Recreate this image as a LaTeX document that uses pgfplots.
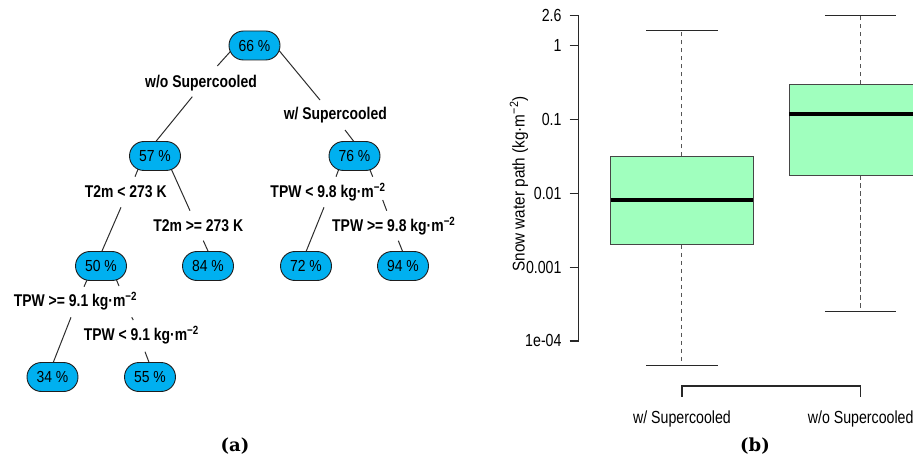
\documentclass[border=0pt]{standalone}
\usepackage{fontspec}
\usepackage{pgfplots}
\pgfplotsset{compat=1.18}
\usetikzlibrary{shapes.misc}
\newfontfamily\lblfont[FakeStretch=0.82]{Liberation Sans}
\newfontfamily\nodefont[FakeStretch=0.87]{Liberation Sans}
\newfontfamily\bxfont[FakeStretch=0.81]{Liberation Sans}
\newfontfamily\ylfont[FakeStretch=0.9]{Liberation Sans}
\newfontfamily\panelfont{DejaVu Serif}
\definecolor{nodeblue}{RGB}{0,176,240}
\definecolor{nodeborder}{RGB}{30,30,30}
\definecolor{edgecol}{RGB}{45,45,45}
\definecolor{axisgray}{RGB}{40,40,40}
\definecolor{whisk}{RGB}{85,85,85}
\definecolor{boxborder}{RGB}{70,70,70}
\definecolor{boxgreen}{RGB}{160,255,190}
\begin{document}
\begin{tikzpicture}
\useasboundingbox (0pt,0pt) rectangle (913pt,457pt);
% ---------------- full-picture axis: tree (a) and panel labels
\begin{axis}[at={(0pt,0pt)}, anchor=south west, width=913pt, height=457pt,
  scale only axis, xmin=0, xmax=913, ymin=0, ymax=457, y dir=reverse,
  hide axis, clip=false]
% edges (visible parts)
\addplot[edgecol, line width=1pt, unbounded coords=jump, mark=none] table[row sep=\\]{
x y\\
235.8 45.5\\ 217.3 66\\ nan nan\\
192.3 96.7\\ 155.7 141.7\\ nan nan\\
274.9 45.5\\ 320 100\\ nan nan\\
345 130\\ 354 141.7\\ nan nan\\
143.4 156\\ 135 176.7\\ nan nan\\
121 207.3\\ 101.7 251.7\\ nan nan\\
165.4 156\\ 190 210.7\\ nan nan\\
203.3 240.7\\ 208.3 251.7\\ nan nan\\
343.8 156\\ 336 176.7\\ nan nan\\
324 207.3\\ 306 251.7\\ nan nan\\
364.4 156\\ 372.7 176.7\\ nan nan\\
382.7 200\\ 386.7 210.7\\ nan nan\\
398.3 240.7\\ 402.7 251.7\\ nan nan\\
93.4 266\\ 84 286.7\\ nan nan\\
71 317.3\\ 53.3 362.3\\ nan nan\\
110.7 266\\ 119 286\\ nan nan\\
131.7 317.3\\ 133.3 320\\ nan nan\\
145 351.7\\ 149 362.3\\
};
% tree nodes
\addplot[draw=none, mark=none, point meta=explicit symbolic, nodes near coords,
  every node near coord/.append style={anchor=center, rounded rectangle, draw=nodeborder,
    line width=0.9pt, fill=nodeblue, minimum width=51pt, minimum height=29pt,
    inner sep=0pt, text=black, font=\nodefont\fontsize{16}{18}\selectfont}]
coordinates {
(254.5,45.5) [66 \%]
(155,156) [57 \%]
(354.5,156) [76 \%]
(101,266) [50 \%]
(208,266) [84 \%]
(306,266) [72 \%]
(403,266) [94 \%]
(52.5,377) [34 \%]
(150,377) [55 \%]
};
% split labels
\addplot[draw=none, mark=none, point meta=explicit symbolic, nodes near coords,
  every node near coord/.append style={anchor=base, inner sep=0pt, text=black,
    font=\lblfont\bfseries\fontsize{17}{20}\selectfont}]
coordinates {
(201,87.3) [w/o Supercooled]
(335.3,120) [w/ Supercooled]
(125.8,197.3) [T2m < 273 K]
(328,197.3) [TPW < 9.8 kg·m\textsuperscript{−2}]
(198.2,231.7) [T2m >= 273 K]
(393.8,231.7) [TPW >= 9.8 kg·m\textsuperscript{−2}]
(75.5,306.7) [TPW >= 9.1 kg·m\textsuperscript{−2}]
(141.3,340.7) [TPW < 9.1 kg·m\textsuperscript{−2}]
};
% panel labels
\addplot[draw=none, mark=none, point meta=explicit symbolic, nodes near coords,
  every node near coord/.append style={anchor=base, inner sep=0pt, text=black,
    font=\panelfont\bfseries\fontsize{18}{21}\selectfont}]
coordinates {(235,451.7) [(a)] (755,451.7) [(b)]};
% y label of (b)
\addplot[draw=none, mark=none, nodes near coords={Snow water path (kg·m\textsuperscript{−2})},
  every node near coord/.append style={anchor=base, rotate=90, inner sep=0pt, text=black,
    font=\ylfont\fontsize{17}{20}\selectfont}]
coordinates {(524.5,184)};
\end{axis}
% ---------------- boxplot (b)
\begin{axis}[at={(578.7pt,57pt)}, anchor=south west, width=334.3pt, height=398.5pt,
  scale only axis, ymode=log, xmin=0.422, xmax=2.2927, ymin=1.585e-5, ymax=3.981,
  clip=false, axis line style={draw=none}, tick align=outside, major tick length=9pt,
  xtick={1,2}, xticklabels={w/ Supercooled,w/o Supercooled}, xtick style={draw=none},
  ytick={1e-4,0.001,0.01,0.1,1,2.6}, yticklabels={1e-04,0.001,0.01,0.1,1,2.6},
  minor ytick={}, ytick style={draw=axisgray, line width=1.1pt},
  xtick pos=bottom, ytick pos=left,
  x tick label style={font=\bxfont\fontsize{17.5}{20}\selectfont, anchor=north, inner sep=0pt, yshift=-1.5pt},
  y tick label style={font=\bxfont\fontsize{17.5}{20}\selectfont, anchor=east, inner sep=0pt, xshift=-8pt}]
% y axis line and x bracket
\addplot[axisgray, line width=1.1pt, mark=none] coordinates {(0.422,1e-4) (0.422,2.6)};
\addplot[axisgray, line width=1.1pt, mark=none] coordinates {(1,1.75e-5) (1,2.45e-5) (2,2.45e-5) (2,1.75e-5)};
% whiskers
\addplot[whisk, line width=1pt, dash pattern=on 4.5pt off 3.5pt, mark=none] coordinates {(1,0.0317) (1,1.6)};
\addplot[whisk, line width=1pt, dash pattern=on 4.5pt off 3.5pt, mark=none] coordinates {(1,0.0020) (1,4.6e-5)};
\addplot[whisk, line width=1pt, dash pattern=on 4.5pt off 3.5pt, mark=none] coordinates {(2,0.303) (2,2.6)};
\addplot[whisk, line width=1pt, dash pattern=on 4.5pt off 3.5pt, mark=none] coordinates {(2,0.0177) (2,2.49e-4)};
\addplot[axisgray, line width=1.1pt, mark=none] coordinates {(0.8,1.6) (1.2,1.6)};
\addplot[axisgray, line width=1.1pt, mark=none] coordinates {(0.8,4.6e-5) (1.2,4.6e-5)};
\addplot[axisgray, line width=1.1pt, mark=none] coordinates {(1.8,2.6) (2.2,2.6)};
\addplot[axisgray, line width=1.1pt, mark=none] coordinates {(1.8,2.49e-4) (2.2,2.49e-4)};
% boxes
\addplot[fill=boxgreen, draw=boxborder, line width=1pt, mark=none] coordinates {(0.6,0.0020) (1.4,0.0020) (1.4,0.0317) (0.6,0.0317)} -- cycle;
\addplot[fill=boxgreen, draw=none, mark=none] coordinates {(1.6,0.0177) (2.2927,0.0177) (2.2927,0.303) (1.6,0.303)} -- cycle;
\addplot[boxborder, line width=1pt, mark=none] coordinates {(2.2927,0.0177) (1.6,0.0177) (1.6,0.303) (2.2927,0.303)};
% medians
\addplot[black, line width=3.5pt, mark=none] coordinates {(0.6,0.0081) (1.4,0.0081)};
\addplot[black, line width=3.5pt, mark=none] coordinates {(1.6,0.119) (2.2927,0.119)};
\end{axis}
\end{tikzpicture}
\end{document}
